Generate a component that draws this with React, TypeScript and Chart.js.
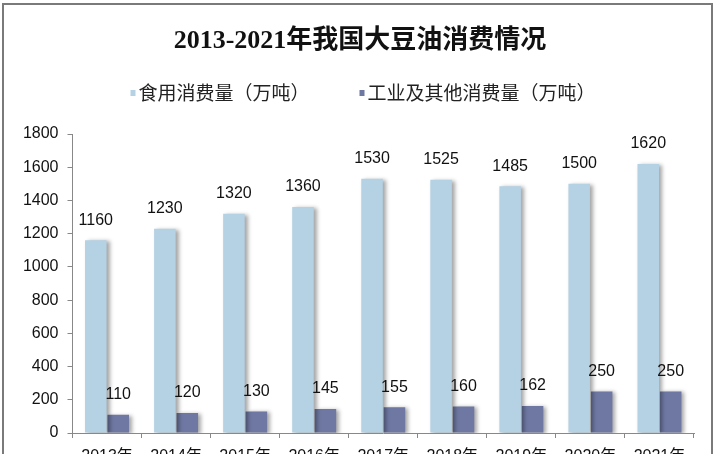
import React, { useEffect, useRef } from "react";
import { Chart, registerables } from "chart.js";

Chart.register(...registerables);

const categories = ["2013年", "2014年", "2015年", "2016年", "2017年", "2018年", "2019年", "2020年", "2021年"];
const edibleUse = [1160, 1230, 1320, 1360, 1530, 1525, 1485, 1500, 1620];
const industrialUse = [110, 120, 130, 145, 155, 160, 162, 250, 250];
const seriesNames = ["食用消费量（万吨）", "工业及其他消费量（万吨）"];
const titleText = "2013-2021年我国大豆油消费情况";

const LIGHT = "#b5d1e4";
const DARK = "#6e78a2";
const CJK = "'Noto Sans CJK SC', 'Liberation Sans', sans-serif";

const shadowPlugin = {
  id: "barShadow",
  beforeDatasetsDraw(chart: any) {
    const ctx = chart.ctx;
    ctx.save();
    ctx.shadowColor = "rgba(0,0,0,0.35)";
    ctx.shadowBlur = 4;
    ctx.shadowOffsetX = 3;
    ctx.shadowOffsetY = 1;
  },
  afterDatasetsDraw(chart: any) {
    chart.ctx.restore();
  },
};

const labelPlugin = {
  id: "valueLabels",
  afterDraw(chart: any) {
    const ctx = chart.ctx;
    ctx.save();
    ctx.font = "16px 'Liberation Sans', Arial, sans-serif";
    ctx.fillStyle = "#111";
    ctx.textAlign = "center";
    ctx.textBaseline = "middle";
    chart.data.datasets.forEach((ds: any, di: number) => {
      const meta = chart.getDatasetMeta(di);
      meta.data.forEach((bar: any, i: number) => {
        ctx.fillText(String(ds.data[i]), bar.x, bar.y - 20);
      });
    });
    ctx.restore();
  },
};

const titleLegendPlugin = {
  id: "titleLegend",
  afterDraw(chart: any) {
    const ctx = chart.ctx;
    ctx.save();
    // title
    ctx.font = "bold 26px 'Liberation Serif', 'Noto Sans CJK SC', serif";
    ctx.fillStyle = "#111";
    ctx.textAlign = "center";
    ctx.textBaseline = "middle";
    ctx.fillText(titleText, chart.width / 2, 41);
    // legend
    ctx.font = "19px " + CJK;
    ctx.textAlign = "left";
    const markerW = 5;
    const markerGap = 3;
    const itemGap = 50;
    const ds = chart.data.datasets;
    const widths = ds.map((d: any) => markerW + markerGap + ctx.measureText(d.label).width);
    const total = widths.reduce((a: number, b: number) => a + b, 0) + itemGap * (ds.length - 1);
    let x = chart.width / 2 + 3 - total / 2;
    const y = 93;
    ds.forEach((d: any, i: number) => {
      ctx.fillStyle = d.backgroundColor;
      ctx.fillRect(x, y - 3, markerW, 6);
      ctx.fillStyle = "#222";
      ctx.fillText(d.label, x + markerW + markerGap, y);
      x += widths[i] + itemGap;
    });
    ctx.restore();
  },
};

export default function App() {
  const ref = useRef<HTMLCanvasElement | null>(null);
  useEffect(() => {
    document.body.style.margin = "0";
    const canvas = ref.current;
    if (!canvas) return;
    const chart = new Chart(canvas, {
      type: "bar",
      data: {
        labels: categories,
        datasets: [
          { label: seriesNames[0], data: edibleUse, backgroundColor: LIGHT, categoryPercentage: 0.65, barPercentage: 0.96 },
          { label: seriesNames[1], data: industrialUse, backgroundColor: DARK, categoryPercentage: 0.65, barPercentage: 0.96 },
        ],
      },
      options: {
        responsive: false,
        animation: false,
        devicePixelRatio: 1,
        layout: { padding: { left: 0, right: 26, top: 134, bottom: 0 } },
        plugins: {
          legend: { display: false },
          tooltip: { enabled: false },
          title: { display: false },
        },
        scales: {
          x: {
            grid: { display: true, drawOnChartArea: false, drawTicks: true, tickLength: 5, color: "#888", offset: true },
            border: { display: true, color: "#888", width: 1 },
            ticks: { color: "#111", padding: 9, font: { family: "'Liberation Sans', " + CJK, size: 16 } },
            afterFit: (s: any) => { s.height = 37; },
          },
          y: {
            min: 0,
            max: 1800,
            ticks: {
              stepSize: 200,
              color: "#111",
              padding: 9,
              font: { family: "'Liberation Sans', Arial, sans-serif", size: 16 },
              callback: (v: any) => String(v),
            },
            grid: { display: true, drawOnChartArea: false, drawTicks: true, tickLength: 5, color: "#888" },
            border: { display: true, color: "#888", width: 1 },
            afterFit: (s: any) => { s.width = 72.5; },
          },
        },
      },
      plugins: [shadowPlugin, labelPlugin, titleLegendPlugin],
    });
    return () => chart.destroy();
  }, []);

  return (
    <div style={{ position: "relative", width: 720, height: 454, overflow: "hidden", background: "#fff" }}>
      <canvas ref={ref} width={720} height={470} style={{ display: "block" }} />
      <div
        style={{
          position: "absolute",
          left: 2,
          top: 3,
          width: 711,
          height: 500,
          border: "2px solid #7a7a7a",
          boxSizing: "border-box",
          pointerEvents: "none",
        }}
      />
    </div>
  );
}
